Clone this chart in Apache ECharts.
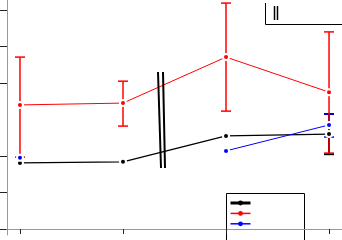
<!DOCTYPE html>
<html><head><meta charset="utf-8">
<script src="https://cdn.jsdelivr.net/npm/echarts@6/dist/echarts.min.js"></script>
<style>html,body{margin:0;padding:0;background:#fff}#c{width:342px;height:240px}</style>
</head><body><div id="c"></div>
<script>
var xValues = [1, 2, 3, 4];
var yTicks = [0, 1, 2, 4, 5, 6];
var seriesNames = ['A', 'B', 'C'];
var blackVals = [1.81, 1.84, 2.55, 2.60];
var blackLow  = [null, null, null, 2.05];
var blackHigh = [null, null, null, 3.15];
var redVals = [3.40, 3.45, 4.71, 3.75];
var redLow  = [1.97, 2.82, 3.23, 2.08];
var redHigh = [4.71, 4.05, 6.19, 5.40];
var blueVals = [1.95, null, 2.14, 2.85];
var blueLow  = [null, null, null, 2.52];
var blueHigh = [null, null, null, 3.15];

function pts(vals){ return xValues.map(function(x,i){ return [x, vals[i]]; }); }
function errData(low, high){
  var out = [];
  xValues.forEach(function(x,i){ if (low[i] != null) out.push([x, low[i], high[i]]); });
  return out;
}
function errSeries(low, high, color, w, z){
  return {
    type: 'custom', z: z, silent: true,
    data: errData(low, high),
    renderItem: function(params, api){
      var x = api.value(0);
      var a = api.coord([x, api.value(1)]);
      var b = api.coord([x, api.value(2)]);
      var hw = 5;
      var st = {stroke: color, lineWidth: w};
      return {type: 'group', children: [
        {type: 'line', shape: {x1: a[0], y1: a[1], x2: b[0], y2: b[1]}, style: st},
        {type: 'line', shape: {x1: a[0]-hw, y1: a[1], x2: a[0]+hw, y2: a[1]}, style: st},
        {type: 'line', shape: {x1: b[0]-hw, y1: b[1], x2: b[0]+hw, y2: b[1]}, style: st}
      ]};
    }
  };
}
function lineSeries(name, vals, color, w){
  return {
    name: name, type: 'line', z: 5, data: pts(vals), connectNulls: false,
    symbol: 'circle', symbolSize: 6, showSymbol: true,
    lineStyle: {color: color, width: w},
    itemStyle: {color: color, borderColor: '#fff', borderWidth: 2},
    animation: false
  };
}
var chart = echarts.init(document.getElementById('c'));
chart.setOption({
  animation: false,
  grid: {left: 7, right: 0, top: 0, bottom: 5},
  xAxis: {
    type: 'value', min: 0.874, max: 4.126, z: 20,
    axisLine: {show: true, lineStyle: {color: '#999', width: 1}},
    axisTick: {show: true, inside: false, length: 5, lineStyle: {color: '#222'}, customValues: xValues},
    axisLabel: {show: false}, splitLine: {show: false}
  },
  yAxis: {
    type: 'value', min: -0.164, max: 6.274,
    axisLine: {show: true, lineStyle: {color: '#999', width: 1}},
    axisTick: {show: true, inside: false, length: 7, lineStyle: {color: '#222'}, customValues: yTicks},
    axisLabel: {show: false}, splitLine: {show: false}
  },
  legend: {
    left: 229, top: 200, orient: 'vertical',
    data: [
      {name: seriesNames[0], itemStyle: {borderWidth: 0}, lineStyle: {width: 3}},
      {name: seriesNames[1], itemStyle: {borderWidth: 0}, lineStyle: {width: 1.5}},
      {name: seriesNames[2], itemStyle: {borderWidth: 0}, lineStyle: {width: 1.5}}
    ],
    formatter: function(){ return ''; },
    itemWidth: 20, itemHeight: 6, itemGap: 5,
    padding: 0,
    textStyle: {fontSize: 1}
  },
  graphic: [
    {type: 'rect', shape: {x: 226.5, y: 193.5, width: 78, height: 60}, style: {stroke: '#000', fill: '#fff', lineWidth: 1}, z: 1},
    {type: 'line', shape: {x1: 158, y1: 72, x2: 161, y2: 168}, style: {stroke: '#000', lineWidth: 2}, z: 100},
    {type: 'line', shape: {x1: 163, y1: 72, x2: 165, y2: 168}, style: {stroke: '#000', lineWidth: 2}, z: 100},
    {type: 'polyline', shape: {points: [[265.5, 3], [265.5, 24.5], [342, 24.5]]}, style: {stroke: '#000', fill: null, lineWidth: 1}, z: 100},
    {type: 'line', shape: {x1: 274.5, y1: 6, x2: 274.5, y2: 20}, style: {stroke: '#000', lineWidth: 1.5}, z: 100},
    {type: 'line', shape: {x1: 277.5, y1: 6, x2: 277.5, y2: 20}, style: {stroke: '#000', lineWidth: 1.5}, z: 100}
  ],
  series: [
    errSeries(blackLow, blackHigh, '#000', 2, 2),
    errSeries(blueLow, blueHigh, '#0000ff', 1.5, 3),
    errSeries(redLow, redHigh, '#ff0000', 1.5, 4),
    lineSeries(seriesNames[0], blackVals, '#000', 1.3),
    lineSeries(seriesNames[1], redVals, '#ff0000', 1),
    lineSeries(seriesNames[2], blueVals, '#0000ff', 1)
  ]
});
</script></body></html>
